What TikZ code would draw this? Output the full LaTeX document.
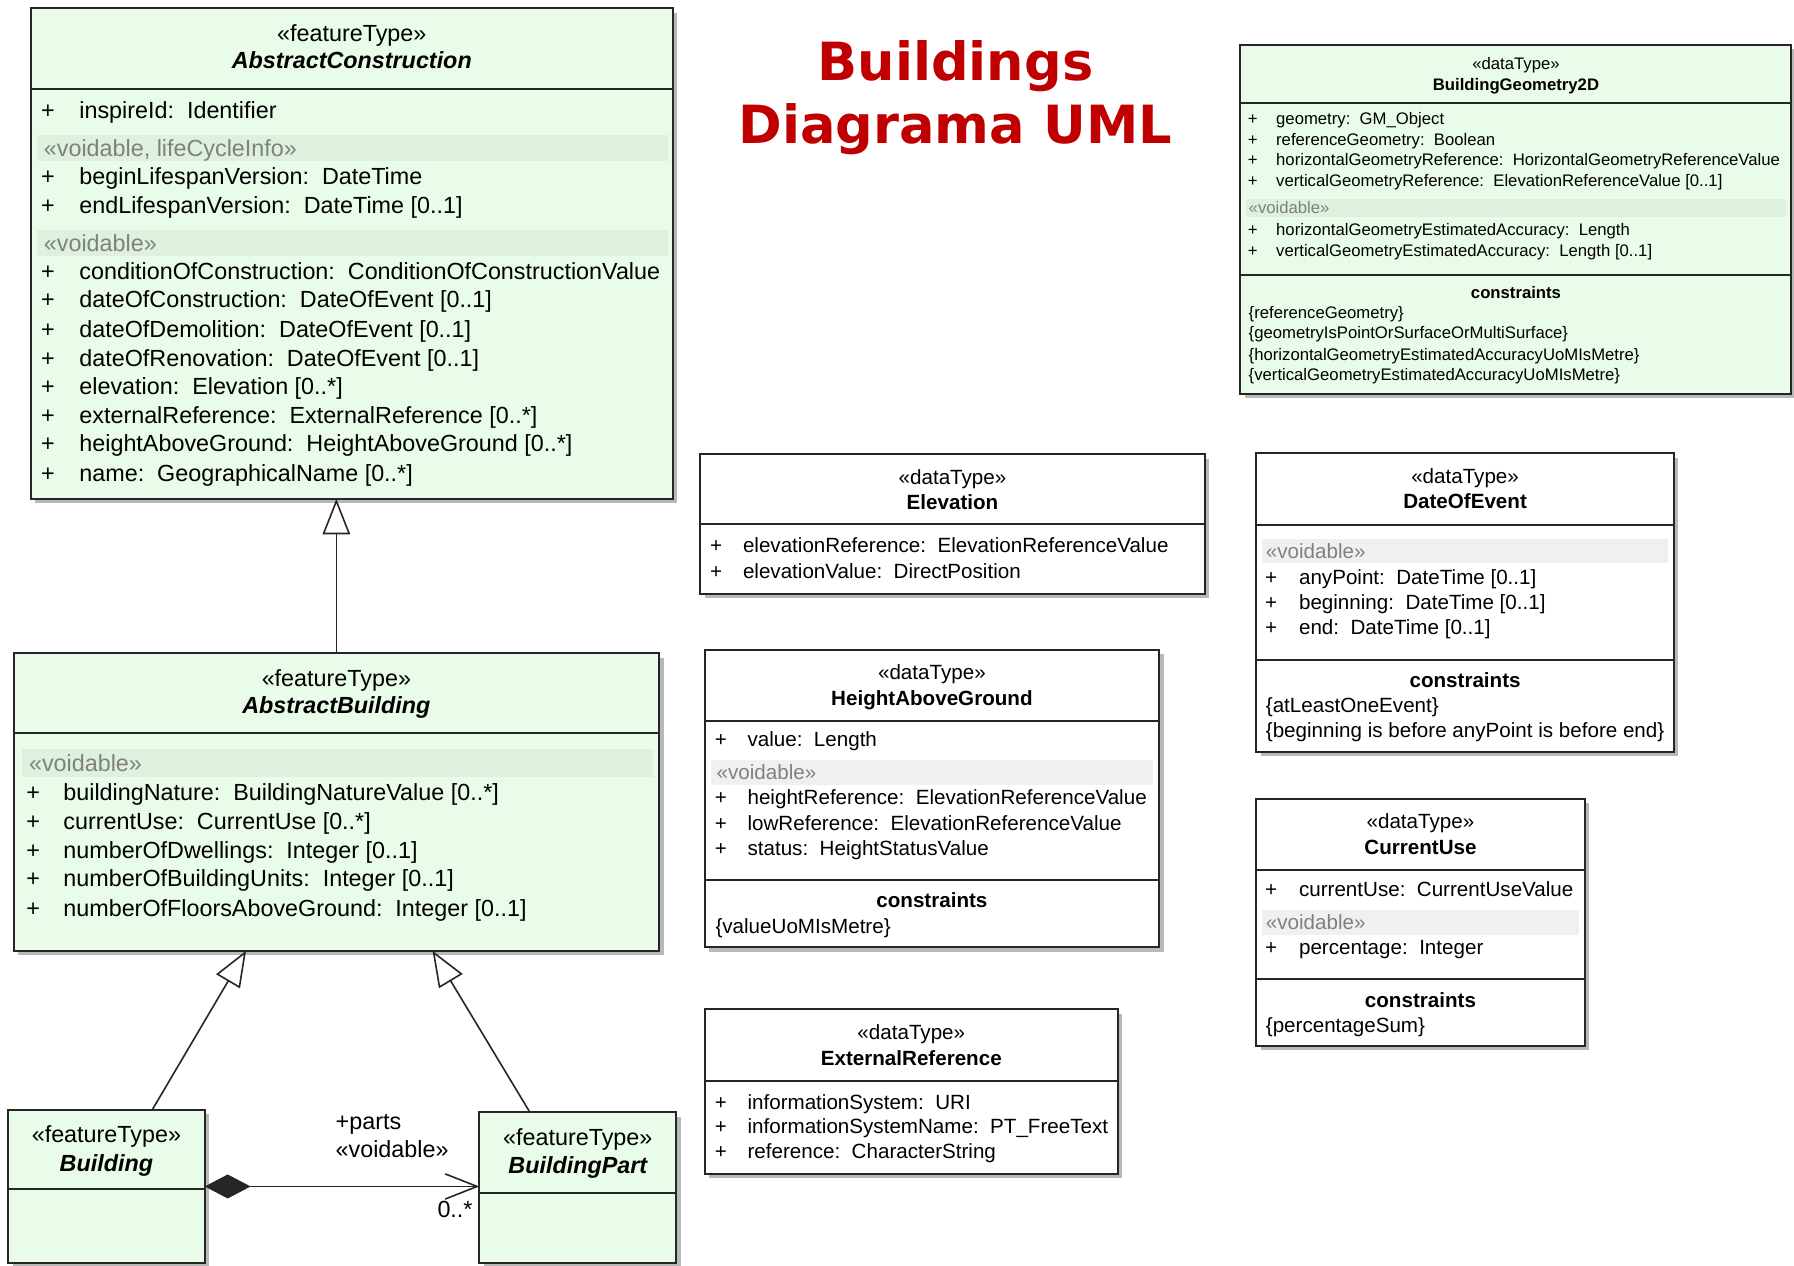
\documentclass[tikz,border=0pt]{standalone}
\usepackage{fontspec}
\setmainfont{Liberation Sans}
\newfontfamily\titlefont{DejaVu Sans}
\usetikzlibrary{arrows.meta,shadows,calc}
\definecolor{fgreen}{RGB}{233,251,233}
\definecolor{bandgreen}{RGB}{222,240,222}
\definecolor{bandgray}{RGB}{240,240,240}
\definecolor{voidgray}{RGB}{128,128,128}
\definecolor{titlered}{RGB}{192,0,0}
\newcommand\fsA{\fontsize{10.2}{12}\selectfont}
\newcommand\fsB{\fontsize{9}{11}\selectfont}
\newcommand\fsC{\fontsize{7.3}{9}\selectfont}
\tikzset{
  umlbox/.style={draw=black!85, line width=0.85pt, rectangle, inner sep=0pt, outer sep=0pt,
    anchor=north west, general shadow={fill=black!28, shadow xshift=2pt, shadow yshift=-2pt}},
  sepline/.style={draw=black!85, line width=0.85pt},
  plus/.style={anchor=base, inner sep=0pt},
  attr/.style={anchor=base west, inner sep=0pt},
  stereo/.style={anchor=base, inner sep=0pt},
  gen/.style={draw=black!85, line width=0.7pt, -{Triangle[length=15.5pt,width=12pt,fill=white]}},
  comp/.style={draw=black!85, line width=0.7pt, {Diamond[length=20pt,width=10.5pt]}-{Straight Barb[length=14pt,width=11pt]}}
}
% box: name, x1, y1, x2, y2, fill
\newcommand\umlboxat[6]{\node[umlbox, fill=#6, minimum width={(#4-#2)*0.5pt}, minimum height={(#5-#3)*0.5pt}] (#1) at (#2,#3) {};}
% separator: box name, y
\newcommand\sepat[2]{\draw[sepline] (#1.west |- 0,#2) -- (#1.east |- 0,#2);}
% band: name, x1, y1, x2, y2, colour, text x, font, text, offset
\newcommand\bandat[9]{\fill[#6] (#2,#3) rectangle (#4,#5);
  \node[attr, font=#8, text=voidgray] (#1) at (#7,{(#3+#5)/2+#9}) {\bandtext};}
% attributes: prefix, font, plus x, text x, offset, list y/text
\newcommand\attrlist[6]{\foreach \attY/\attT [count=\attK] in {#6} {
    \node[plus, font=#2] (#1p\attK) at (#3,{\attY+#5}) {+};
    \node[attr, font=#2] (#1t\attK) at (#4,{\attY+#5}) {\attT};}}
% plain lines: prefix, font, x, offset, list
\newcommand\textlist[5]{\foreach \attY/\attT [count=\attK] in {#5} {
    \node[attr, font=#2] (#1\attK) at (#3,{\attY+#4}) {\attT};}}
\begin{document}
\begin{tikzpicture}[x=0.5pt,y=-0.5pt]
\useasboundingbox (0,0) rectangle (1568,1106);

% Title
\node[font=\titlefont\bfseries\fontsize{23}{27.5}\selectfont, text=titlered, align=center, inner sep=0pt]
  (title) at (835,85) {Buildings\\Diagrama UML};

% ---------------- AbstractConstruction
\umlboxat{acon}{27}{7}{588}{436}{fgreen}
\def\bandtext{«voidable, lifeCycleInfo»}
\bandat{aconv1}{32}{118}{584}{141}{bandgreen}{38}{\fsA}{7}
\def\bandtext{«voidable»}
\bandat{aconv2}{32}{201}{584}{224}{bandgreen}{38}{\fsA}{7}
\sepat{acon}{78}
\node[stereo, font=\fsA] (aconst) at (307.5,36) {«featureType»};
\node[stereo, font=\fsA\bfseries\itshape] (aconnm) at (307.5,60) {AbstractConstruction};
\attrlist{acona}{\fsA}{42}{69}{7}{97/inspireId:\ \ Identifier,
  154/beginLifespanVersion:\ \ DateTime,
  180/endLifespanVersion:\ \ DateTime [0..1]}
\attrlist{aconb}{\fsA}{42}{69}{7}{237/conditionOfConstruction:\ \ ConditionOfConstructionValue,
  262/dateOfConstruction:\ \ DateOfEvent [0..1],
  288/dateOfDemolition:\ \ DateOfEvent [0..1],
  313/dateOfRenovation:\ \ DateOfEvent [0..1],
  338/elevation:\ \ Elevation [0..*],
  363/externalReference:\ \ ExternalReference [0..*],
  388/heightAboveGround:\ \ HeightAboveGround [0..*],
  414/name:\ \ GeographicalName [0..*]}

% ---------------- AbstractBuilding
\umlboxat{abld}{12}{571}{576}{831}{fgreen}
\def\bandtext{«voidable»}
\bandat{abldv}{19}{655}{571}{679}{bandgreen}{25}{\fsA}{7}
\sepat{abld}{641}
\node[stereo, font=\fsA] (abldst) at (294,600) {«featureType»};
\node[stereo, font=\fsA\bfseries\itshape] (abldnm) at (294,624) {AbstractBuilding};
\attrlist{abld}{\fsA}{29}{55}{7}{693/buildingNature:\ \ BuildingNatureValue [0..*],
  718/currentUse:\ \ CurrentUse [0..*],
  743/numberOfDwellings:\ \ Integer [0..1],
  768/numberOfBuildingUnits:\ \ Integer [0..1],
  794/numberOfFloorsAboveGround:\ \ Integer [0..1]}

% ---------------- Building
\umlboxat{bld}{7}{970}{179}{1104}{fgreen}
\sepat{bld}{1039}
\node[stereo, font=\fsA] (bldst) at (93,999) {«featureType»};
\node[stereo, font=\fsA\bfseries\itshape] (bldnm) at (93,1024) {Building};

% ---------------- BuildingPart
\umlboxat{bpart}{419}{972}{591}{1104}{fgreen}
\sepat{bpart}{1043}
\node[stereo, font=\fsA] (bpartst) at (505,1001) {«featureType»};
\node[stereo, font=\fsA\bfseries\itshape] (bpartnm) at (505,1026) {BuildingPart};

% ---------------- BuildingGeometry2D
\umlboxat{bg}{1084}{39}{1565}{344}{fgreen}
\def\bandtext{«voidable»}
\bandat{bgv}{1089}{174}{1561}{190}{bandgreen}{1091}{\fsC}{5}
\sepat{bg}{90}
\sepat{bg}{240}
\node[stereo, font=\fsC] (bgst) at (1325,61) {«dataType»};
\node[stereo, font=\fsC\bfseries] (bgnm) at (1325,79) {BuildingGeometry2D};
\attrlist{bga}{\fsC}{1095}{1115}{5}{104/geometry:\ \ GM\_Object,
  122/referenceGeometry:\ \ Boolean,
  140/horizontalGeometryReference:\ \ HorizontalGeometryReferenceValue,
  158/verticalGeometryReference:\ \ ElevationReferenceValue [0..1]}
\attrlist{bgb}{\fsC}{1095}{1115}{5}{201/horizontalGeometryEstimatedAccuracy:\ \ Length,
  219/verticalGeometryEstimatedAccuracy:\ \ Length [0..1]}
\node[stereo, font=\fsC\bfseries] (bgct) at (1325,261) {constraints};
\textlist{bgc}{\fsC}{1091}{5}{273/\{referenceGeometry\},
  291/\{geometryIsPointOrSurfaceOrMultiSurface\},
  310/\{horizontalGeometryEstimatedAccuracyUoMIsMetre\},
  328/\{verticalGeometryEstimatedAccuracyUoMIsMetre\}}

% ---------------- Elevation
\umlboxat{elev}{612}{397}{1053}{519}{white}
\sepat{elev}{458}
\node[stereo, font=\fsB] (elevst) at (832.5,423.5) {«dataType»};
\node[stereo, font=\fsB\bfseries] (elevnm) at (832.5,445.5) {Elevation};
\attrlist{elev}{\fsB}{626}{649}{6.5}{476/elevationReference:\ \ ElevationReferenceValue,
  499/elevationValue:\ \ DirectPosition}

% ---------------- HeightAboveGround
\umlboxat{hag}{616}{568}{1013}{828}{white}
\def\bandtext{«voidable»}
\bandat{hagv}{621}{664}{1008}{686}{bandgray}{626}{\fsB}{6.5}
\sepat{hag}{630}
\sepat{hag}{769}
\node[stereo, font=\fsB] (hagst) at (814.5,593.5) {«dataType»};
\node[stereo, font=\fsB\bfseries] (hagnm) at (814.5,616.5) {HeightAboveGround};
\attrlist{haga}{\fsB}{630}{653}{6.5}{646/value:\ \ Length}
\attrlist{hagb}{\fsB}{630}{653}{6.5}{697/heightReference:\ \ ElevationReferenceValue,
  719/lowReference:\ \ ElevationReferenceValue,
  741/status:\ \ HeightStatusValue}
\node[stereo, font=\fsB\bfseries] (hagct) at (814.5,793.5) {constraints};
\textlist{hagc}{\fsB}{625}{6.5}{809/\{valueUoMIsMetre\}}

% ---------------- ExternalReference
\umlboxat{ext}{616}{882}{977}{1026}{white}
\sepat{ext}{945}
\node[stereo, font=\fsB] (extst) at (796.5,908.5) {«dataType»};
\node[stereo, font=\fsB\bfseries] (extnm) at (796.5,931.5) {ExternalReference};
\attrlist{ext}{\fsB}{630}{653}{6.5}{963/informationSystem:\ \ URI,
  984/informationSystemName:\ \ PT\_FreeText,
  1006/reference:\ \ CharacterString}

% ---------------- DateOfEvent
\umlboxat{doe}{1098}{396}{1463}{657}{white}
\def\bandtext{«voidable»}
\bandat{doev}{1103}{471}{1458}{492}{bandgray}{1106}{\fsB}{6.5}
\sepat{doe}{459}
\sepat{doe}{577}
\node[stereo, font=\fsB] (doest) at (1280.5,422.5) {«dataType»};
\node[stereo, font=\fsB\bfseries] (doenm) at (1280.5,444.5) {DateOfEvent};
\attrlist{doe}{\fsB}{1111}{1135}{6.5}{504/anyPoint:\ \ DateTime [0..1],
  526/beginning:\ \ DateTime [0..1],
  548/end:\ \ DateTime [0..1]}
\node[stereo, font=\fsB\bfseries] (doect) at (1280.5,600.5) {constraints};
\textlist{doec}{\fsB}{1106}{6.5}{616/\{atLeastOneEvent\},
  638/\{beginning is before anyPoint is before end\}}

% ---------------- CurrentUse
\umlboxat{cu}{1098}{698}{1385}{914}{white}
\def\bandtext{«voidable»}
\bandat{cuv}{1103}{795}{1380}{817}{bandgray}{1106}{\fsB}{6.5}
\sepat{cu}{760}
\sepat{cu}{856}
\node[stereo, font=\fsB] (cust) at (1241.5,724.5) {«dataType»};
\node[stereo, font=\fsB\bfseries] (cunm) at (1241.5,746.5) {CurrentUse};
\attrlist{cua}{\fsB}{1111}{1135}{6.5}{777/currentUse:\ \ CurrentUseValue}
\attrlist{cub}{\fsB}{1111}{1135}{6.5}{828/percentage:\ \ Integer}
\node[stereo, font=\fsB\bfseries] (cuct) at (1241.5,880.5) {constraints};
\textlist{cuc}{\fsB}{1106}{6.5}{896/\{percentageSum\}}

% ---------------- connectors
\draw[gen] (abld.north) -- (abld.north |- acon.south);
\draw[gen] ($(bld.north west)!0.733!(bld.north east)$) -- ($(abld.south west)!0.36!(abld.south east)$);
\draw[gen] ($(bpart.north west)!0.256!(bpart.north east)$) -- ($(abld.south west)!0.649!(abld.south east)$);
\draw[comp] (bld.east |- 0,1037) -- (bpart.west |- 0,1037);
\node[attr, font=\fsA] (lparts) at (293,987) {+parts};
\node[attr, font=\fsA] (lvoid) at (293,1012) {«voidable»};
\node[attr, font=\fsA] (lmult) at (382,1064) {0..*};
\end{tikzpicture}
\end{document}
